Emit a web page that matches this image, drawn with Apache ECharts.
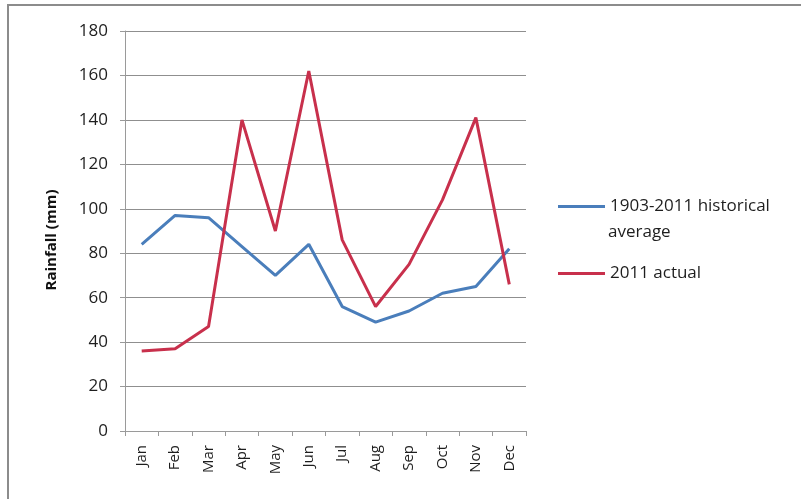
<!DOCTYPE html>
<html>
<head>
<meta charset="utf-8">
<style>
  html, body { margin: 0; padding: 0; background: #fff; }
  #chart { width: 810px; height: 499px; }
</style>
<script src="https://cdn.jsdelivr.net/npm/echarts@6/dist/echarts.min.js"></script>
</head>
<body>
<div id="chart"></div>
<script>
// Monthly rainfall: long-term average vs. the 2011 year
const months = ['Jan', 'Feb', 'Mar', 'Apr', 'May', 'Jun', 'Jul', 'Aug', 'Sep', 'Oct', 'Nov', 'Dec'];
const historicalAvg = [84, 97, 96, 83, 70, 84, 56, 49, 54, 62, 65, 82];
const actual2011 = [36, 37, 47, 140, 90, 162, 86, 56, 75, 104, 141, 66];
const seriesNames = ['1903-2011 historical average', '2011 actual'];
const yTicks = { min: 0, max: 180, step: 20 };

const FONT = '"Open Sans", "Noto Sans", sans-serif';
const TEXT = '#1e1e1e';
const BLUE = '#4a7ebb';
const RED = '#c8304c';

const chart = echarts.init(document.getElementById('chart'), null, { renderer: 'canvas' });

chart.setOption({
  animation: false,
  backgroundColor: '#ffffff',
  grid: { left: 125, right: 284, top: 31, bottom: 68, containLabel: false },
  graphic: [
    {
      // chart frame (left and top edges)
      type: 'polyline',
      shape: { points: [[8, 520], [8, 5], [801, 5]] },
      style: { stroke: '#8c8c8c', lineWidth: 2, fill: null }
    },
    {
      // wrapped second line of the first legend entry
      type: 'text',
      left: 608, top: 224,
      style: { text: 'average', fontFamily: FONT, fontSize: 17, fill: TEXT }
    }
  ],
  legend: [
    {
      data: [seriesNames[0]],
      left: 558, top: 198, padding: 0,
      icon: 'rect', itemWidth: 47, itemHeight: 3,
      formatter: () => '1903-2011 historical',
      textStyle: { fontFamily: FONT, fontSize: 17, color: TEXT }
    },
    {
      data: [seriesNames[1]],
      left: 558, top: 265, padding: 0,
      icon: 'rect', itemWidth: 47, itemHeight: 3,
      textStyle: { fontFamily: FONT, fontSize: 17, color: TEXT }
    }
  ],
  xAxis: {
    type: 'category',
    data: months,
    boundaryGap: true,
    axisLine: { lineStyle: { color: '#9a9a9a', width: 1 } },
    axisTick: { show: true, length: 5, inside: false, lineStyle: { color: '#9a9a9a' } },
    axisLabel: {
      rotate: 90, margin: 14, interval: 0,
      fontFamily: FONT, fontSize: 15, color: TEXT
    },
    splitLine: { show: false }
  },
  yAxis: {
    type: 'value',
    min: yTicks.min, max: yTicks.max, interval: yTicks.step,
    name: 'Rainfall (mm)',
    nameLocation: 'middle',
    nameGap: 66,
    nameRotate: 90,
    nameTextStyle: { fontFamily: FONT, fontSize: 15, fontWeight: 'bold', color: '#111', padding: [0, 0, 0, -18] },
    axisLine: { show: true, lineStyle: { color: '#9a9a9a', width: 1 } },
    axisTick: { show: true, length: 5, lineStyle: { color: '#9a9a9a' } },
    axisLabel: { fontFamily: FONT, fontSize: 17, color: TEXT, margin: 17 },
    splitLine: { show: true, lineStyle: { color: '#8f8f8f', width: 1 } }
  },
  series: [
    {
      name: seriesNames[0],
      type: 'line',
      data: historicalAvg,
      symbol: 'none',
      color: BLUE,
      lineStyle: { color: BLUE, width: 3 }
    },
    {
      name: seriesNames[1],
      type: 'line',
      data: actual2011,
      symbol: 'none',
      color: RED,
      lineStyle: { color: RED, width: 3 }
    }
  ]
});
</script>
</body>
</html>
